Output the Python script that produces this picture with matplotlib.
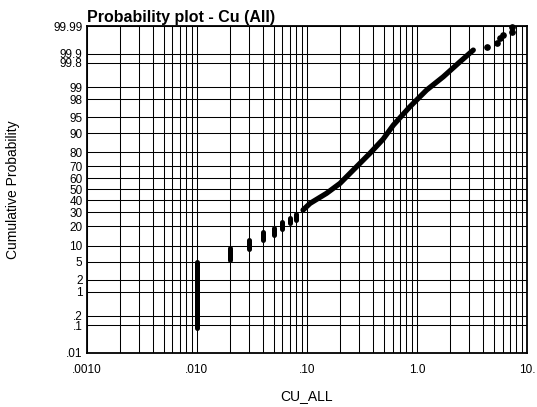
from statistics import NormalDist
import numpy as np
import matplotlib
matplotlib.use("Agg")
import matplotlib.pyplot as plt
from matplotlib.ticker import FixedLocator, FixedFormatter, NullLocator, LogLocator

plt.rcParams['font.family'] = ['Liberation Sans', 'DejaVu Sans']

# values censored at the lab steps (value, lowest and highest cumulative %)
step_values = [0.01, 0.02, 0.03, 0.04, 0.05, 0.06, 0.07, 0.08]
step_low = [0.08, 5.3, 8.8, 12.5, 15.0, 18.5, 22.0, 24.0]
step_high = [5.0, 9.0, 12.5, 16.5, 19.0, 23.0, 26.0, 28.5]

# continuous part of the sample
curve_values = [0.0923, 0.107, 0.151, 0.200, 0.283, 0.374, 0.494, 0.610,
                0.863, 1.224, 1.733, 2.46, 3.25]
curve_probs = [31.9, 37.5, 46.4, 55.4, 69.7, 79.4, 87.4, 92.8,
               97.0, 98.81, 99.48, 99.816, 99.924]

# isolated high values
tail_values = [4.30, 5.29, 5.67, 6.08, 7.25, 7.25]
tail_probs = [99.942, 99.956, 99.971, 99.978, 99.983, 99.989]

prob_ticks = [0.01, 0.1, 0.2, 1, 2, 5, 10, 20, 30, 40, 50, 60, 70, 80,
              90, 95, 98, 99, 99.8, 99.9, 99.99]
prob_labels = [".01", ".1", ".2", "1", "2", "5", "10", "20", "30", "40", "50",
               "60", "70", "80", "90", "95", "98", "99", "99.8", "99.9", "99.99"]
x_ticks = [0.001, 0.01, 0.1, 1, 10]
x_labels = [".0010", ".010", ".10", "1.0", "10."]

_nd = NormalDist()


def to_z(p):
    p = np.asarray(p, dtype=float) / 100.0
    p = np.where(np.isfinite(p), p, 0.5)
    p = np.clip(p, 1e-12, 1 - 1e-12)
    return np.vectorize(_nd.inv_cdf, otypes=[float])(p)


def from_z(z):
    z = np.asarray(z, dtype=float)
    z = np.where(np.isfinite(z), z, 0.0)
    return np.vectorize(_nd.cdf, otypes=[float])(z) * 100.0


fig = plt.figure(figsize=(5.37, 4.07), dpi=100)
ax = fig.add_axes([0.1614, 0.1334, 0.82, 0.8027])

ax.set_xscale('log')
ax.set_yscale('function', functions=(to_z, from_z))
ax.set_xlim(0.001, 10)
ax.set_ylim(0.01, 99.99)

ax.xaxis.set_major_locator(FixedLocator(x_ticks))
ax.xaxis.set_major_formatter(FixedFormatter(x_labels))
ax.xaxis.set_minor_locator(LogLocator(base=10, subs=np.arange(2, 10)))
ax.xaxis.set_minor_formatter(FixedFormatter([]))
ax.yaxis.set_major_locator(FixedLocator(prob_ticks))
ax.yaxis.set_major_formatter(FixedFormatter(prob_labels))
ax.yaxis.set_minor_locator(NullLocator())

ax.grid(which='both', axis='x', color='black', lw=0.75)
ax.grid(which='major', axis='y', color='black', lw=0.75)
ax.set_axisbelow(True)

ax.tick_params(which='both', length=0, labelsize=8.5, colors='black')
ax.tick_params(axis='x', pad=8)
ax.tick_params(axis='y', pad=3)
for sp in ax.spines.values():
    sp.set_linewidth(1.3)

for v, lo, hi in zip(step_values, step_low, step_high):
    ax.plot([v, v], [lo, hi], color='black', lw=3.6, solid_capstyle='round')
ax.plot(curve_values, curve_probs, color='black', lw=3.8,
        solid_capstyle='round', solid_joinstyle='round')
ax.plot(tail_values, tail_probs, 'o', color='black', ms=3.8, clip_on=False)

ax.set_title('Probability plot - Cu (All)', loc='left', fontweight='bold',
             fontsize=11.5, pad=3)
ax.set_xlabel('CU_ALL', fontsize=10)
ax.set_ylabel('Cumulative Probability', fontsize=10)
ax.xaxis.set_label_coords(0.5, -0.11)
ax.yaxis.set_label_coords(-0.152, 0.5)

fig.savefig('out.png', dpi=100)
